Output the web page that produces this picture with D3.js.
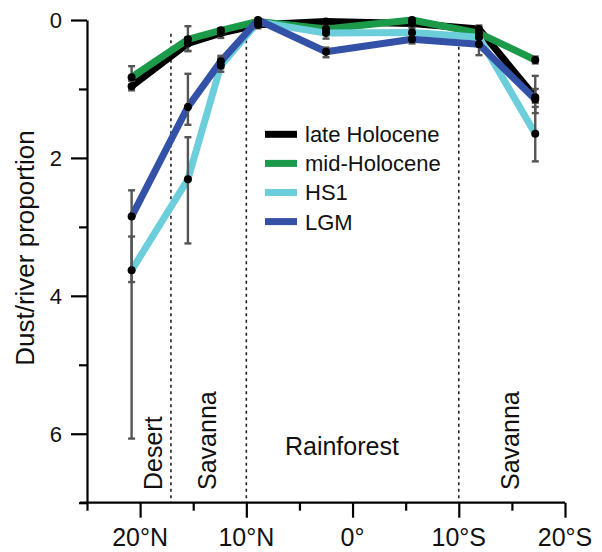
<!DOCTYPE html>
<html>
<head>
<meta charset="utf-8">
<script src="https://cdn.jsdelivr.net/npm/d3@7"></script>
<style>
  body { margin: 0; background: #fff; }
  svg text { font-family: 'Liberation Sans', Arial, sans-serif; fill: #111; }
</style>
</head>
<body>
<svg class="chart"></svg>
<script>
// latitude of each site (N positive, S negative)
const lats = [20.8, 15.5, 12.4, 8.9, 2.5, -5.6, -11.9, -17.2];

// dust/river proportion per period
const lateHolocene = [0.96, 0.34, 0.19, 0.07, 0.02, 0.05, 0.13, 1.12];
const midHolocene = [0.83, 0.28, 0.15, 0.02, 0.13, 0.0, 0.19, 0.58];
const hs1 = [3.63, 2.31, 0.66, 0.03, 0.19, 0.18, 0.25, 1.65];
const lgm = [2.85, 1.26, 0.6, 0.0, 0.46, 0.28, 0.35, 1.15];

// error ranges [low, high]
const lateErr = [[0.88, 1.02], [0.25, 0.45], [0.12, 0.26], [0.03, 0.12], [0.0, 0.08], [0.0, 0.1], [0.08, 0.2], [1.0, 1.2]];
const midErr = [[0.67, 0.98], [0.09, 0.45], [0.12, 0.22], [0.0, 0.06], [0.08, 0.2], [0.0, 0.05], [0.12, 0.26], [0.53, 0.63]];
const hs1Err = [[3.14, 6.07], [1.7, 3.24], [0.55, 0.75], [0.0, 0.07], [0.13, 0.27], [0.12, 0.25], [0.17, 0.33], [1.26, 2.05]];
const lgmErr = [[2.47, 3.8], [0.78, 1.52], [0.52, 0.7], [0.0, 0.05], [0.4, 0.54], [0.2, 0.34], [0.2, 0.51], [0.81, 1.35]];

const seriesNames = ['late Holocene', 'mid-Holocene', 'HS1', 'LGM'];
const seriesColors = ['#000000', '#1b9a4a', '#6dcedb', '#3351a6'];

// axis ticks
const xTickValues = [25, 20, 15, 10, 5, 0, -5, -10, -15, -20];
const xLabelValues = [20, 10, 0, -10, -20];
const xTickLabels = ['20°N', '10°N', '0°', '10°S', '20°S'];
const yTickValues = [0, 1, 2, 3, 4, 5, 6, 7];
const yLabelValues = [0, 2, 4, 6];

// vegetation zones
const zoneBounds = [17.1, 10, -10];
const zoneNames = ['Desert', 'Savanna', 'Rainforest', 'Savanna'];
const zoneLats = [17.9, 12.9, 1.0, -15.7];

const width = 602;
const height = 552;

const svg = d3.select('.chart').attr('width', width).attr('height', height);

const x = d3.scaleLinear().domain([25, -20]).range([87, 565]);
const y = d3.scaleLinear().domain([0, 7]).range([20, 502.7]);

const series = seriesNames.map((name, i) => ({
  name: name,
  color: seriesColors[i],
  values: [lateHolocene, midHolocene, hs1, lgm][i],
  err: [lateErr, midErr, hs1Err, lgmErr][i],
}));

// dotted zone boundaries
svg
  .selectAll('.zone-line')
  .data(zoneBounds)
  .enter()
  .append('line')
  .classed('zone-line', true)
  .attr('x1', (d) => x(d))
  .attr('x2', (d) => x(d))
  .attr('y1', y(0.2))
  .attr('y2', y(7))
  .attr('stroke', '#222')
  .attr('stroke-width', 1.6)
  .attr('stroke-dasharray', '3,3.5');

// zone labels (rotated ones sit with their baseline on the given latitude)
zoneNames.forEach((name, i) => {
  if (name === 'Rainforest') {
    svg
      .append('text')
      .attr('x', x(zoneLats[i]))
      .attr('y', 455)
      .attr('text-anchor', 'middle')
      .style('font-size', '25px')
      .text(name);
  } else {
    svg
      .append('text')
      .attr('transform', `translate(${x(zoneLats[i])},490) rotate(-90)`)
      .attr('text-anchor', 'start')
      .style('font-size', '25px')
      .text(name);
  }
});

// lines
const line = d3
  .line()
  .x((d, i) => x(lats[i]))
  .y((d) => y(d));

svg
  .selectAll('.line')
  .data(series)
  .enter()
  .append('path')
  .classed('line', true)
  .attr('d', (d) => line(d.values))
  .attr('fill', 'none')
  .attr('stroke', (d) => d.color)
  .attr('stroke-width', 7)
  .attr('stroke-linejoin', 'round');

// error bars
const errData = [];
series.forEach((s) => {
  s.err.forEach((e, i) => errData.push({ lat: lats[i], lo: e[0], hi: e[1] }));
});

const bars = svg.append('g').attr('stroke', '#555').attr('stroke-width', 2.4);
errData.forEach((e) => {
  bars.append('line').attr('x1', x(e.lat)).attr('x2', x(e.lat)).attr('y1', y(e.lo)).attr('y2', y(e.hi));
  bars.append('line').attr('x1', x(e.lat) - 3.5).attr('x2', x(e.lat) + 3.5).attr('y1', y(e.lo)).attr('y2', y(e.lo));
  bars.append('line').attr('x1', x(e.lat) - 3.5).attr('x2', x(e.lat) + 3.5).attr('y1', y(e.hi)).attr('y2', y(e.hi));
});

// points
series.forEach((s) => {
  svg
    .append('g')
    .selectAll('circle')
    .data(s.values)
    .enter()
    .append('circle')
    .attr('cx', (d, i) => x(lats[i]))
    .attr('cy', (d) => y(d))
    .attr('r', 4)
    .attr('fill', '#000');
});

// x axis
const xAxis = svg
  .append('g')
  .attr('transform', `translate(0,${y(7)})`)
  .call(d3.axisBottom(x).tickValues(xTickValues).tickSizeOuter(0).tickFormat(''));
xAxis.selectAll('.tick line').attr('y2', (d) => (xLabelValues.includes(d) ? 15 : 8));
xAxis.select('.domain').attr('d', `M80,0H${x(-20)}`);
xAxis.selectAll('path, line').attr('stroke', '#000').attr('stroke-width', 2.2);

svg
  .selectAll('.x-label')
  .data(xLabelValues)
  .enter()
  .append('text')
  .classed('x-label', true)
  .attr('x', (d) => x(d))
  .attr('y', 546)
  .attr('text-anchor', 'middle')
  .style('font-size', '25px')
  .text((d, i) => xTickLabels[i]);

// y axis
const yAxis = svg
  .append('g')
  .attr('transform', `translate(${x(25)},0)`)
  .call(d3.axisLeft(y).tickValues(yTickValues).tickSizeOuter(0).tickFormat(''));
yAxis.selectAll('.tick line').attr('x2', (d) => (yLabelValues.includes(d) ? -16 : -8));
yAxis.selectAll('path, line').attr('stroke', '#000').attr('stroke-width', 2.2);

svg
  .selectAll('.y-label')
  .data(yLabelValues)
  .enter()
  .append('text')
  .classed('y-label', true)
  .attr('x', 62)
  .attr('y', (d) => y(d))
  .attr('dy', '0.36em')
  .attr('text-anchor', 'end')
  .style('font-size', '22px')
  .text((d) => d);

svg
  .append('text')
  .attr('transform', 'translate(34,248) rotate(-90)')
  .attr('text-anchor', 'middle')
  .style('font-size', '26px')
  .text('Dust/river proportion');

// legend
const legend = svg
  .selectAll('.legend')
  .data(series)
  .enter()
  .append('g')
  .classed('legend', true)
  .attr('transform', (d, i) => `translate(265,${134.3 + i * 29.1})`);

legend
  .append('line')
  .attr('x1', 0)
  .attr('x2', 32)
  .attr('stroke', (d) => d.color)
  .attr('stroke-width', 7);

legend
  .append('text')
  .attr('x', 40)
  .attr('dy', '0.36em')
  .style('font-size', '22px')
  .text((d) => d.name);
</script>
</body>
</html>
